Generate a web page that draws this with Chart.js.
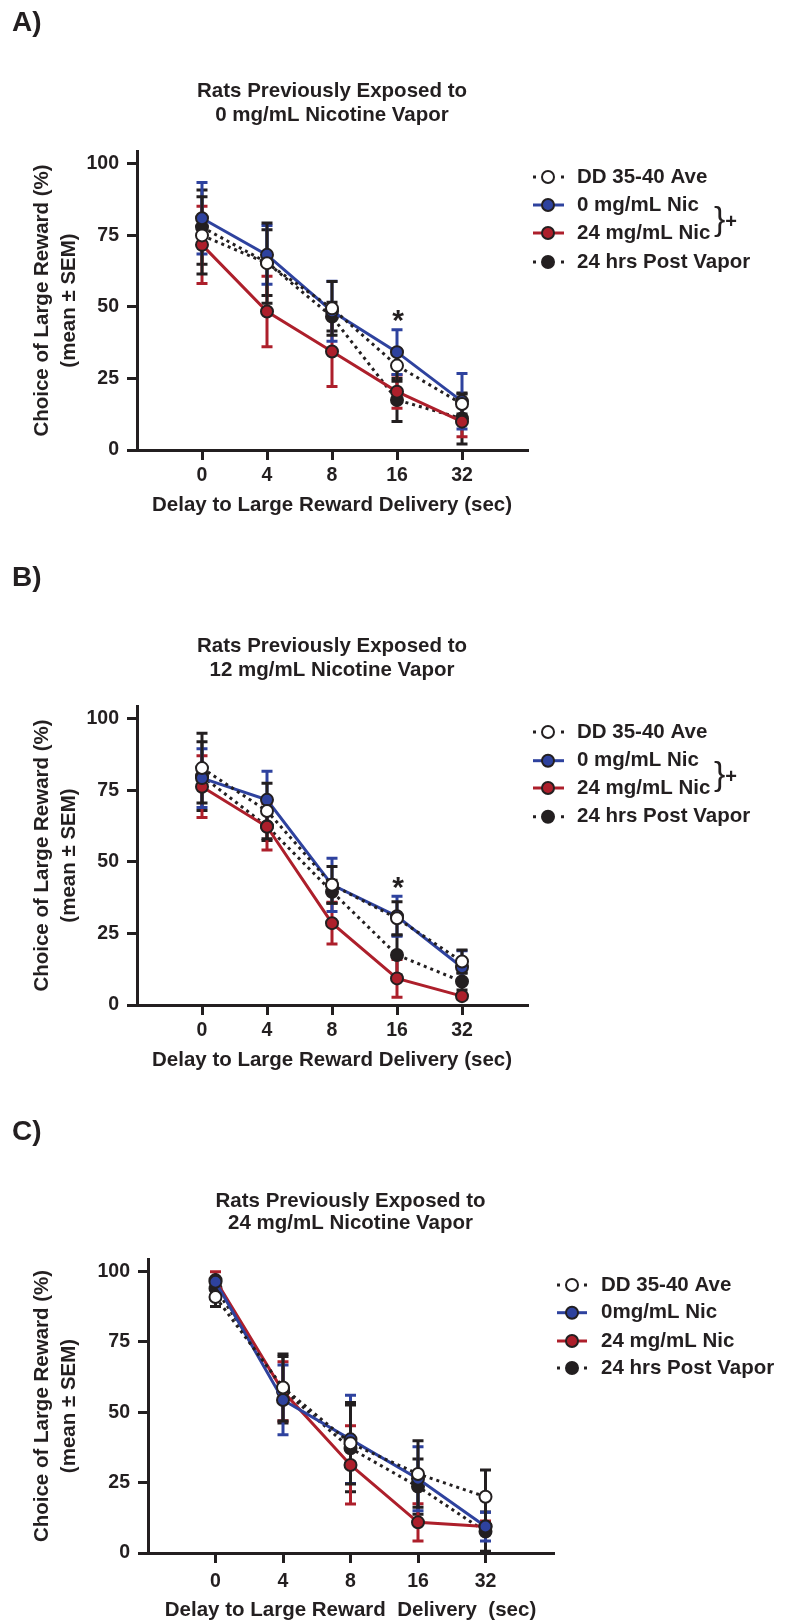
<!DOCTYPE html>
<html>
<head>
<meta charset="utf-8">
<script src="https://cdn.jsdelivr.net/npm/chart.js@4.4.0/dist/chart.umd.min.js"></script>
<style>
  html, body { margin: 0; padding: 0; background: #fff; overflow: hidden; }
  #page { position: relative; width: 785px; height: 1621px; }
  canvas { position: absolute; left: 0; }
</style>
</head>
<body>
<div id="page">
  <canvas id="chartA" width="785" height="520" style="top:0px"></canvas>
  <canvas id="chartB" width="785" height="535" style="top:540px"></canvas>
  <canvas id="chartC" width="785" height="541" style="top:1080px"></canvas>
</div>
<script>
// delay categories (sec) and y tick labels
const delays = ['0', '4', '8', '16', '32'];
const yTicks = [0, 25, 50, 75, 100];

// A) rats previously exposed to 0 mg/mL
const ddA = [75, 65.3, 49.5, 29.5, 16.1];
const ddSemA = [13.5, 14, 9.4, 5.5, 3.5];
const nic0A = [81, 68.2, 48.5, 34.2, 17];
const nic0SemA = [12.5, 10.3, 10.5, 7.8, 9.7];
const nic24A = [71.7, 48.4, 34.4, 20.4, 9.9];
const nic24SemA = [13.5, 12.3, 12.2, 5.8, 5.3];
const postA = [77.9, 65.5, 46.6, 17.5, 11];
const postSemA = [13, 11.5, 5, 7.5, 8.9];

// B) rats previously exposed to 12 mg/mL
const ddB = [82.8, 67.8, 42.0, 30.3, 15.2];
const ddSemB = [12.2, 9.7, 6.4, 5.8, 4];
const nic0B = [79.3, 71.7, 42.0, 31.0, 13.2];
const nic0SemB = [10.3, 10, 9.3, 7, 5.8];
const nic24B = [76.3, 62.3, 28.6, 9.3, 3.1];
const nic24SemB = [10.8, 8.1, 7.3, 6.6, 1];
const postB = [80, 62.5, 39.6, 17.5, 8.2];
const postSemB = [12, 5, 4, 7, 3];

// C) rats previously exposed to 24 mg/mL
const ddC = [91, 58.8, 39, 28.1, 20];
const ddSemC = [3.4, 11.9, 14.5, 11.8, 9.5];
const nic0C = [96.4, 54.4, 40.4, 26.4, 9.4];
const nic0SemC = [1.5, 12.4, 15.7, 11.4, 5.1];
const nic24C = [97, 57.5, 31.3, 10.9, 9.4];
const nic24SemC = [3, 10.5, 13.9, 6.6, 2];
const postC = [94, 58, 37.2, 23.6, 7.6];
const postSemC = [2, 11.8, 15.4, 9.8, 7];

const BLACK = '#231f20';
const BLUE = '#2e429e';
const RED = '#ad1f2b';
const FONT = "'Liberation Sans', Arial, Helvetica, sans-serif";
Chart.defaults.font.family = FONT;
Chart.defaults.color = BLACK;

function series(dd, ddSem, n0, n0Sem, n24, n24Sem, post, postSem) {
    return [
        { label: 'DD 35-40 Ave', data: dd, sem: ddSem, line: BLACK, fill: '#ffffff', dotted: true },
        { label: '0 mg/mL Nic', data: n0, sem: n0Sem, line: BLUE, fill: BLUE, dotted: false },
        { label: '24 mg/mL Nic', data: n24, sem: n24Sem, line: RED, fill: RED, dotted: false },
        { label: '24 hrs Post Vapor', data: post, sem: postSem, line: BLACK, fill: BLACK, dotted: true }
    ];
}

function drawMarker(ctx, x, y, fill) {
    ctx.beginPath();
    ctx.arc(x, y, 6, 0, Math.PI * 2);
    ctx.fillStyle = fill;
    ctx.fill();
    ctx.lineWidth = 2;
    ctx.strokeStyle = BLACK;
    ctx.stroke();
}

const errorBars = {
    id: 'errorBars',
    beforeDatasetsDraw(chart) {
        const ctx = chart.ctx, xs = chart.scales.x, ys = chart.scales.y;
        ctx.save();
        ctx.lineWidth = 3;
        for (let d = chart.data.datasets.length - 1; d >= 0; d--) {
            const ds = chart.data.datasets[d];
            ctx.strokeStyle = ds.errColor;
            ds.data.forEach((pt, i) => {
                const e = ds.sem[i];
                const px = xs.getPixelForValue(pt.x);
                const top = ys.getPixelForValue(pt.y + e);
                const bot = ys.getPixelForValue(Math.max(pt.y - e, 0));
                ctx.beginPath();
                ctx.moveTo(px, top); ctx.lineTo(px, bot);
                ctx.moveTo(px - 5.5, top); ctx.lineTo(px + 5.5, top);
                ctx.moveTo(px - 5.5, bot); ctx.lineTo(px + 5.5, bot);
                ctx.stroke();
            });
        }
        ctx.restore();
    }
};

function makePanel(id, p) {
    const ser = series(...p.values);
    const off = p.canvasTop;
    const xAxisHeight = p.height - (p.area.bottom - off);

    const decor = {
        id: 'decor',
        afterDraw(chart) {
            const ctx = chart.ctx, ca = chart.chartArea;
            ctx.save();
            ctx.fillStyle = BLACK;
            ctx.textBaseline = 'middle';

            // panel letter
            ctx.font = 'bold 28px ' + FONT;
            ctx.textAlign = 'left';
            ctx.fillText(p.letter, 12, p.letterY - off);

            // title
            ctx.font = 'bold 20.5px ' + FONT;
            ctx.textAlign = 'center';
            const cx = (ca.left + ca.right) / 2;
            p.titleLines.forEach((t, i) => ctx.fillText(t, cx, p.titleY[i] - off));

            // significance star above the 0 mg/mL error bar at 16 sec
            if (p.star) {
                const ds = chart.data.datasets[1];
                const sx = chart.scales.x.getPixelForValue(3);
                const sy = chart.scales.y.getPixelForValue(ds.data[3].y + ds.sem[3]);
                ctx.font = 'bold 30px ' + FONT;
                ctx.fillText('*', sx + 1, sy - 8);
            }

            // legend
            const lg = p.legend;
            ser.forEach((s, i) => {
                const y = lg.rows[i] - off;
                ctx.beginPath();
                ctx.lineWidth = 3;
                ctx.strokeStyle = s.line;
                if (s.dotted) {
                    ctx.setLineDash([3, lg.lineTo - lg.lineFrom - 6]);
                } else {
                    ctx.setLineDash([]);
                }
                ctx.moveTo(lg.lineFrom, y);
                ctx.lineTo(lg.lineTo, y);
                ctx.stroke();
                ctx.setLineDash([]);
                drawMarker(ctx, lg.marker, y, s.fill);
                ctx.fillStyle = BLACK;
                ctx.font = 'bold 20.5px ' + FONT;
                ctx.textAlign = 'left';
                ctx.fillText(lg.labels[i], lg.text, y);
            });

            if (p.brace) {
                ctx.font = '34px ' + FONT;
                ctx.textAlign = 'left';
                ctx.fillText('}', p.brace.x, p.brace.y - off);
                ctx.font = 'bold 20px ' + FONT;
                ctx.textAlign = 'center';
                ctx.fillText('+', p.brace.plusX, p.brace.plusY - off);
            }
            ctx.restore();
        }
    };

    new Chart(document.getElementById(id), {
        type: 'line',
        data: {
            datasets: ser.map(s => ({
                label: s.label,
                data: s.data.map((v, i) => ({ x: i, y: v })),
                sem: s.sem,
                errColor: s.line,
                borderColor: s.line,
                borderWidth: 3,
                borderDash: s.dotted ? [3, 4] : [],
                pointRadius: 6,
                pointBorderWidth: 2,
                pointBorderColor: BLACK,
                pointBackgroundColor: s.fill,
                tension: 0,
                fill: false,
                clip: false
            }))
        },
        options: {
            responsive: false,
            animation: false,
            events: [],
            layout: { padding: { top: p.area.top - off, right: 785 - p.area.right, left: 0, bottom: 0 } },
            plugins: {
                legend: { display: false },
                tooltip: { enabled: false },
                title: { display: false }
            },
            scales: {
                x: {
                    type: 'linear',
                    min: -1,
                    max: 5,
                    afterFit: s => { s.height = xAxisHeight; },
                    ticks: {
                        stepSize: 1,
                        autoSkip: false,
                        maxRotation: 0,
                        padding: p.xTickPad,
                        color: BLACK,
                        font: { size: 19.5, weight: 'bold' },
                        callback: v => delays[v] ?? ''
                    },
                    grid: {
                        drawOnChartArea: false,
                        tickLength: 10,
                        lineWidth: 3,
                        tickWidth: 3,
                        color: c => (c.tick && c.tick.value >= 0 && c.tick.value < delays.length) ? BLACK : 'rgba(0,0,0,0)'
                    },
                    border: { display: true, color: BLACK, width: 3 },
                    title: {
                        display: true,
                        text: p.xTitle,
                        color: BLACK,
                        font: { size: 20.5, weight: 'bold', lineHeight: 1 },
                        padding: { top: 0, bottom: p.xTitlePad }
                    }
                },
                y: {
                    min: 0,
                    max: 104.5,
                    afterFit: s => { s.width = p.area.left; },
                    ticks: {
                        stepSize: 25,
                        includeBounds: false,
                        padding: 8,
                        color: BLACK,
                        font: { size: 19.5, weight: 'bold' },
                        callback: v => yTicks.includes(v) ? v : ''
                    },
                    grid: {
                        drawOnChartArea: false,
                        tickLength: 10,
                        lineWidth: 3,
                        tickWidth: 3,
                        color: c => (c.tick && yTicks.includes(c.tick.value)) ? BLACK : 'rgba(0,0,0,0)'
                    },
                    border: { display: true, color: BLACK, width: 3 },
                    title: {
                        display: true,
                        text: ['Choice of Large Reward (%)', '(mean \u00b1 SEM)'],
                        color: BLACK,
                        font: { size: 20.5, weight: 'bold', lineHeight: 1.32 },
                        padding: { top: 28.5, bottom: 0 }
                    }
                }
            }
        },
        plugins: [errorBars, decor]
    });
}

const legendAB = ['DD 35-40 Ave', '0 mg/mL Nic', '24 mg/mL Nic', '24 hrs Post Vapor'];

makePanel('chartA', {
    values: [ddA, ddSemA, nic0A, nic0SemA, nic24A, nic24SemA, postA, postSemA],
    canvasTop: 0, height: 520,
    area: { top: 151, bottom: 450, left: 137, right: 527 },
    letter: 'A)', letterY: 23,
    titleLines: ['Rats Previously Exposed to', '0 mg/mL Nicotine Vapor'], titleY: [91, 115],
    legend: { rows: [177, 205, 233, 262], lineFrom: 533, lineTo: 564, marker: 548, text: 577, labels: legendAB },
    brace: { x: 714, y: 221, plusX: 731, plusY: 222 },
    star: true,
    xTickPad: 4, xTitlePad: 4,
    xTitle: 'Delay to Large Reward Delivery (sec)'
});

makePanel('chartB', {
    values: [ddB, ddSemB, nic0B, nic0SemB, nic24B, nic24SemB, postB, postSemB],
    canvasTop: 540, height: 535,
    area: { top: 706, bottom: 1005, left: 137, right: 527 },
    letter: 'B)', letterY: 578,
    titleLines: ['Rats Previously Exposed to', '12 mg/mL Nicotine Vapor'], titleY: [646, 670],
    legend: { rows: [732, 760.7, 788, 816.7], lineFrom: 533, lineTo: 564, marker: 548, text: 577, labels: legendAB },
    brace: { x: 714, y: 776, plusX: 731, plusY: 777 },
    star: true,
    xTickPad: 4, xTitlePad: 4,
    xTitle: 'Delay to Large Reward Delivery (sec)'
});

makePanel('chartC', {
    values: [ddC, ddSemC, nic0C, nic0SemC, nic24C, nic24SemC, postC, postSemC],
    canvasTop: 1080, height: 541,
    area: { top: 1259, bottom: 1553, left: 148, right: 553 },
    letter: 'C)', letterY: 1132,
    titleLines: ['Rats Previously Exposed to', '24 mg/mL Nicotine Vapor'], titleY: [1201, 1223],
    legend: { rows: [1285, 1312.7, 1341, 1368], lineFrom: 557, lineTo: 587, marker: 572, text: 601,
              labels: ['DD 35-40 Ave', '0mg/mL Nic', '24 mg/mL Nic', '24 hrs Post Vapor'] },
    brace: null,
    star: false,
    xTickPad: 7, xTitlePad: 0,
    xTitle: 'Delay to Large Reward  Delivery  (sec)'
});
</script>
</body>
</html>
